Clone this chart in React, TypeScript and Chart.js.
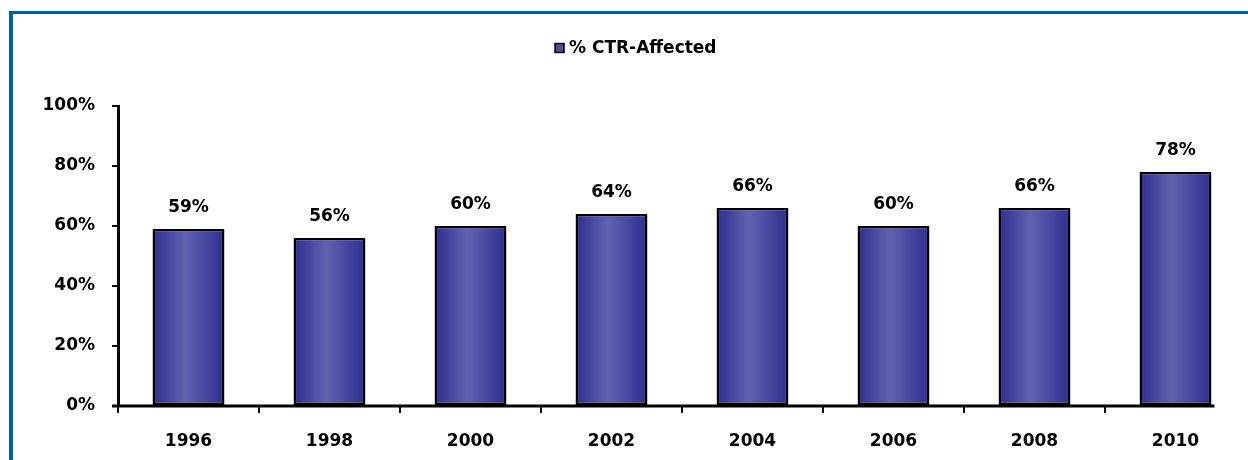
import React, { useEffect, useRef } from "react";
import { Chart, registerables } from "chart.js";

Chart.register(...registerables);

const years = ["1996", "1998", "2000", "2002", "2004", "2006", "2008", "2010"];
const ctrAffected = [59, 56, 60, 64, 66, 60, 66, 78];
const seriesName = "% CTR-Affected";
const yTicks = [0, 20, 40, 60, 80, 100];

const FONT = "'DejaVu Sans', sans-serif";
const FSIZE = 17;

export default function App() {
  const ref = useRef<HTMLCanvasElement>(null);

  useEffect(() => {
    if (!ref.current) return;
    const framePlugin = {
      id: "frame",
      beforeDraw(chart: any) {
        const ctx = chart.ctx;
        ctx.save();
        ctx.fillStyle = "#ffffff";
        ctx.fillRect(0, 0, chart.width, chart.height);
        ctx.fillStyle = "#0063A0";
        ctx.fillRect(9, 11, 4, chart.height);
        ctx.fillRect(9, 11, chart.width, 3);
        ctx.restore();
      },
    };
    const legendPlugin = {
      id: "customLegend",
      afterDraw(chart: any) {
        const ctx = chart.ctx;
        ctx.save();
        ctx.font = `bold ${FSIZE}px ${FONT}`;
        const box = 9;
        const gap = 5;
        const x0 = 555;
        const cy = 48;
        ctx.fillStyle = "#4B4BA6";
        ctx.fillRect(x0, cy - box / 2, box, box);
        ctx.strokeStyle = "#000";
        ctx.lineWidth = 1.5;
        ctx.strokeRect(x0, cy - box / 2, box, box);
        ctx.fillStyle = "#000";
        ctx.textBaseline = "middle";
        ctx.textAlign = "left";
        ctx.fillText(seriesName, x0 + box + gap, cy + 1);
        ctx.restore();
      },
    };
    const labelPlugin = {
      id: "valueLabels",
      afterDatasetsDraw(chart: any) {
        const ctx = chart.ctx;
        const meta = chart.getDatasetMeta(0);
        ctx.save();
        // x-axis line, ending at the last bar's right edge
        const last = meta.data[meta.data.length - 1];
        ctx.strokeStyle = "#000";
        ctx.lineWidth = 3;
        ctx.beginPath();
        ctx.moveTo(chart.chartArea.left - 6, chart.chartArea.bottom);
        ctx.lineTo(last.x + last.width / 2 + 3, chart.chartArea.bottom);
        ctx.stroke();
        ctx.font = `bold ${FSIZE}px ${FONT}`;
        ctx.fillStyle = "#000";
        ctx.textAlign = "center";
        ctx.textBaseline = "middle";
        meta.data.forEach((el: any, i: number) => {
          ctx.fillText(ctrAffected[i] + "%", el.x, el.y - 21);
        });
        ctx.restore();
      },
    };

    const barPct = 0.51;
    const chart = new Chart(ref.current, {
      type: "bar",
      data: {
        labels: years,
        datasets: [
          {
            label: seriesName,
            data: ctrAffected,
            backgroundColor: (c: any) => {
              const chart = c.chart;
              const xs = chart.scales.x;
              if (!xs || c.dataIndex === undefined) return "#4B4BA6";
              const center = xs.getPixelForValue(c.dataIndex);
              const half = ((xs.width / years.length) * barPct) / 2;
              if (!isFinite(center) || !isFinite(half)) return "#4B4BA6";
              const g = chart.ctx.createLinearGradient(center - half, 0, center + half, 0);
              g.addColorStop(0, "#2E2E8E");
              g.addColorStop(0.45, "#6262B2");
              g.addColorStop(1, "#2E2E8E");
              return g;
            },
            borderColor: "#000000",
            borderWidth: 2.5,
            borderSkipped: false,
            categoryPercentage: 1,
            barPercentage: barPct,
          },
        ],
      },
      options: {
        responsive: false,
        maintainAspectRatio: false,
        animation: false,
        layout: { padding: { left: 0, right: 2, top: 106, bottom: 0 } },
        plugins: {
          legend: { display: false },
          tooltip: { enabled: false },
        },
        scales: {
          x: {
            afterFit: (s: any) => {
              s.height = 54;
            },
            grid: {
              display: true,
              drawOnChartArea: false,
              drawTicks: true,
              tickLength: 7,
              color: (c: any) => (c.type !== "tick" || c.index === undefined ? "rgba(0,0,0,0)" : "#000"),
              lineWidth: 2,
              offset: true,
            },
            border: { display: false },
            ticks: {
              color: "#000",
              padding: 18,
              font: { family: FONT, size: FSIZE, weight: "bold" },
              maxRotation: 0,
            },
          },
          y: {
            min: 0,
            max: 100,
            afterFit: (s: any) => {
              s.width = 118;
            },
            afterBuildTicks: (s: any) => {
              s.ticks = yTicks.map((v) => ({ value: v }));
            },
            grid: {
              display: true,
              drawOnChartArea: false,
              drawTicks: true,
              tickLength: 6,
              color: "#000",
              lineWidth: 2,
            },
            border: { display: true, color: "#000", width: 3 },
            ticks: {
              color: "#000",
              padding: 17,
              font: { family: FONT, size: FSIZE, weight: "bold" },
              callback: (v: any) => v + "%",
            },
          },
        },
      },
      plugins: [framePlugin, legendPlugin, labelPlugin],
    } as any);
    return () => chart.destroy();
  }, []);

  return (
    <div style={{ position: "fixed", left: 0, top: 0, width: 1248, height: 460 }}>
      <canvas ref={ref} width={1248} height={460} style={{ display: "block" }} />
    </div>
  );
}
